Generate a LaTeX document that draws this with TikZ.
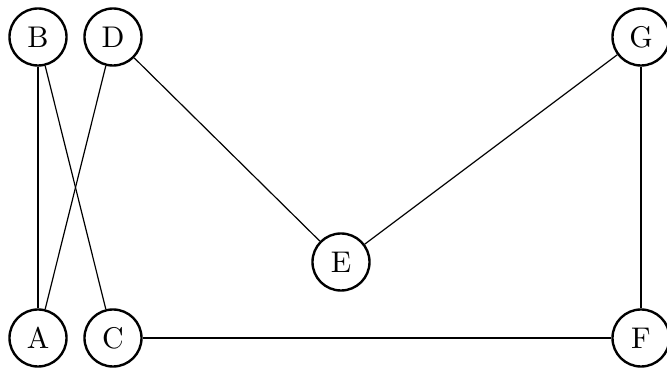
\documentclass[tikz,border=0pt]{standalone}
\usepackage{tikz}
\begin{document}
\begin{tikzpicture}[
    x=0.01175cm, y=-0.01175cm,
    vertex/.style={draw, circle, thick, minimum size=0.67cm, inner sep=1pt},
]
\useasboundingbox (0,0) rectangle (667,369);

% --- Vertices ---
\node[vertex] (B) at (38,37) {B};
\node[vertex] (D) at (113,37) {D};
\node[vertex] (G) at (641,37) {G};
\node[vertex] (E) at (341,262) {E};
\node[vertex] (A) at (38,338) {A};
\node[vertex] (C) at (113,338) {C};
\node[vertex] (F) at (641,338) {F};

% --- Edges ---
\draw (B) -- (A);
\draw (B) -- (C);
\draw (D) -- (A);
\draw (D) -- (E);
\draw (E) -- (G);
\draw (G) -- (F);
\draw (C) -- (F);

\end{tikzpicture}
\end{document}
